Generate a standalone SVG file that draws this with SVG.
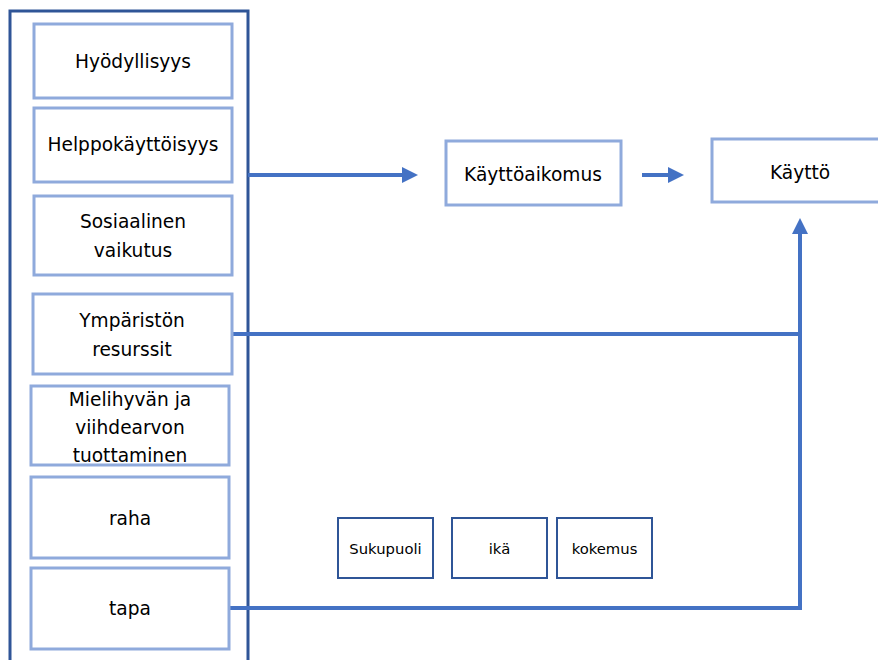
<svg xmlns="http://www.w3.org/2000/svg" width="878" height="660" viewBox="0 0 878 660">
<style>
.inner{fill:#ffffff;stroke:#8FAADC;stroke-width:3}
.small{fill:#ffffff;stroke:#2F5597;stroke-width:2}
.t{font-family:"DejaVu Sans",sans-serif;font-size:18.6px;fill:#000000;text-anchor:middle}
.ts{font-family:"DejaVu Sans",sans-serif;font-size:14.8px;fill:#000000;text-anchor:middle}
.c{fill:none;stroke:#4472C4;stroke-width:4}
</style>
<defs>
<marker id="ah" viewBox="0 0 16 16" refX="0" refY="8" markerWidth="16" markerHeight="16" markerUnits="userSpaceOnUse" orient="auto">
<path d="M0,0 L16,8 L0,16 Z" fill="#4472C4"/>
</marker>
</defs>
<rect width="878" height="660" fill="#ffffff"/>
<g id="container">
<path d="M10,672 L10,11 L248,11 L248,672" fill="none" stroke="#2F5597" stroke-width="3"/>
</g>
<g id="connectors">
<path class="c" d="M248,175 L402,175" marker-end="url(#ah)"/>
<path class="c" d="M642,175 L668,175" marker-end="url(#ah)"/>
<path class="c" d="M232,334 L800,334"/>
<path class="c" d="M229,608 L800,608 L800,234" marker-end="url(#ah)"/>
</g>
<g id="n1"><rect class="inner" x="34" y="24" width="198" height="74"/><text class="t" x="133" y="68">Hyödyllisyys</text></g>
<g id="n2"><rect class="inner" x="34" y="108" width="198" height="74"/><text class="t" x="133" y="151">Helppokäyttöisyys</text></g>
<g id="n3"><rect class="inner" x="34" y="196" width="198" height="79"/><text class="t" x="133" y="228">Sosiaalinen</text><text class="t" x="133" y="257">vaikutus</text></g>
<g id="n4"><rect class="inner" x="33" y="294" width="199" height="80"/><text class="t" x="132" y="327">Ympäristön</text><text class="t" x="132" y="356">resurssit</text></g>
<g id="n5"><rect class="inner" x="31" y="386" width="198" height="79"/><text class="t" x="130" y="406">Mielihyvän ja</text><text class="t" x="130" y="434">viihdearvon</text><text class="t" x="130" y="462">tuottaminen</text></g>
<g id="n6"><rect class="inner" x="31" y="477" width="198" height="81"/><text class="t" x="130" y="525">raha</text></g>
<g id="n7"><rect class="inner" x="31" y="568" width="198" height="81"/><text class="t" x="130" y="615">tapa</text></g>
<g id="n8"><rect class="inner" x="446" y="141" width="175" height="64"/><text class="t" x="533" y="181">Käyttöaikomus</text></g>
<g id="n9"><rect class="inner" x="712" y="139" width="172" height="63"/><text class="t" x="800" y="179">Käyttö</text></g>
<g id="n10"><rect class="small" x="338" y="518" width="95" height="60"/><text class="ts" x="385.5" y="554">Sukupuoli</text></g>
<g id="n11"><rect class="small" x="452" y="518" width="95" height="60"/><text class="ts" x="499.5" y="554">ikä</text></g>
<g id="n12"><rect class="small" x="557" y="518" width="95" height="60"/><text class="ts" x="604.5" y="554">kokemus</text></g>
</svg>
